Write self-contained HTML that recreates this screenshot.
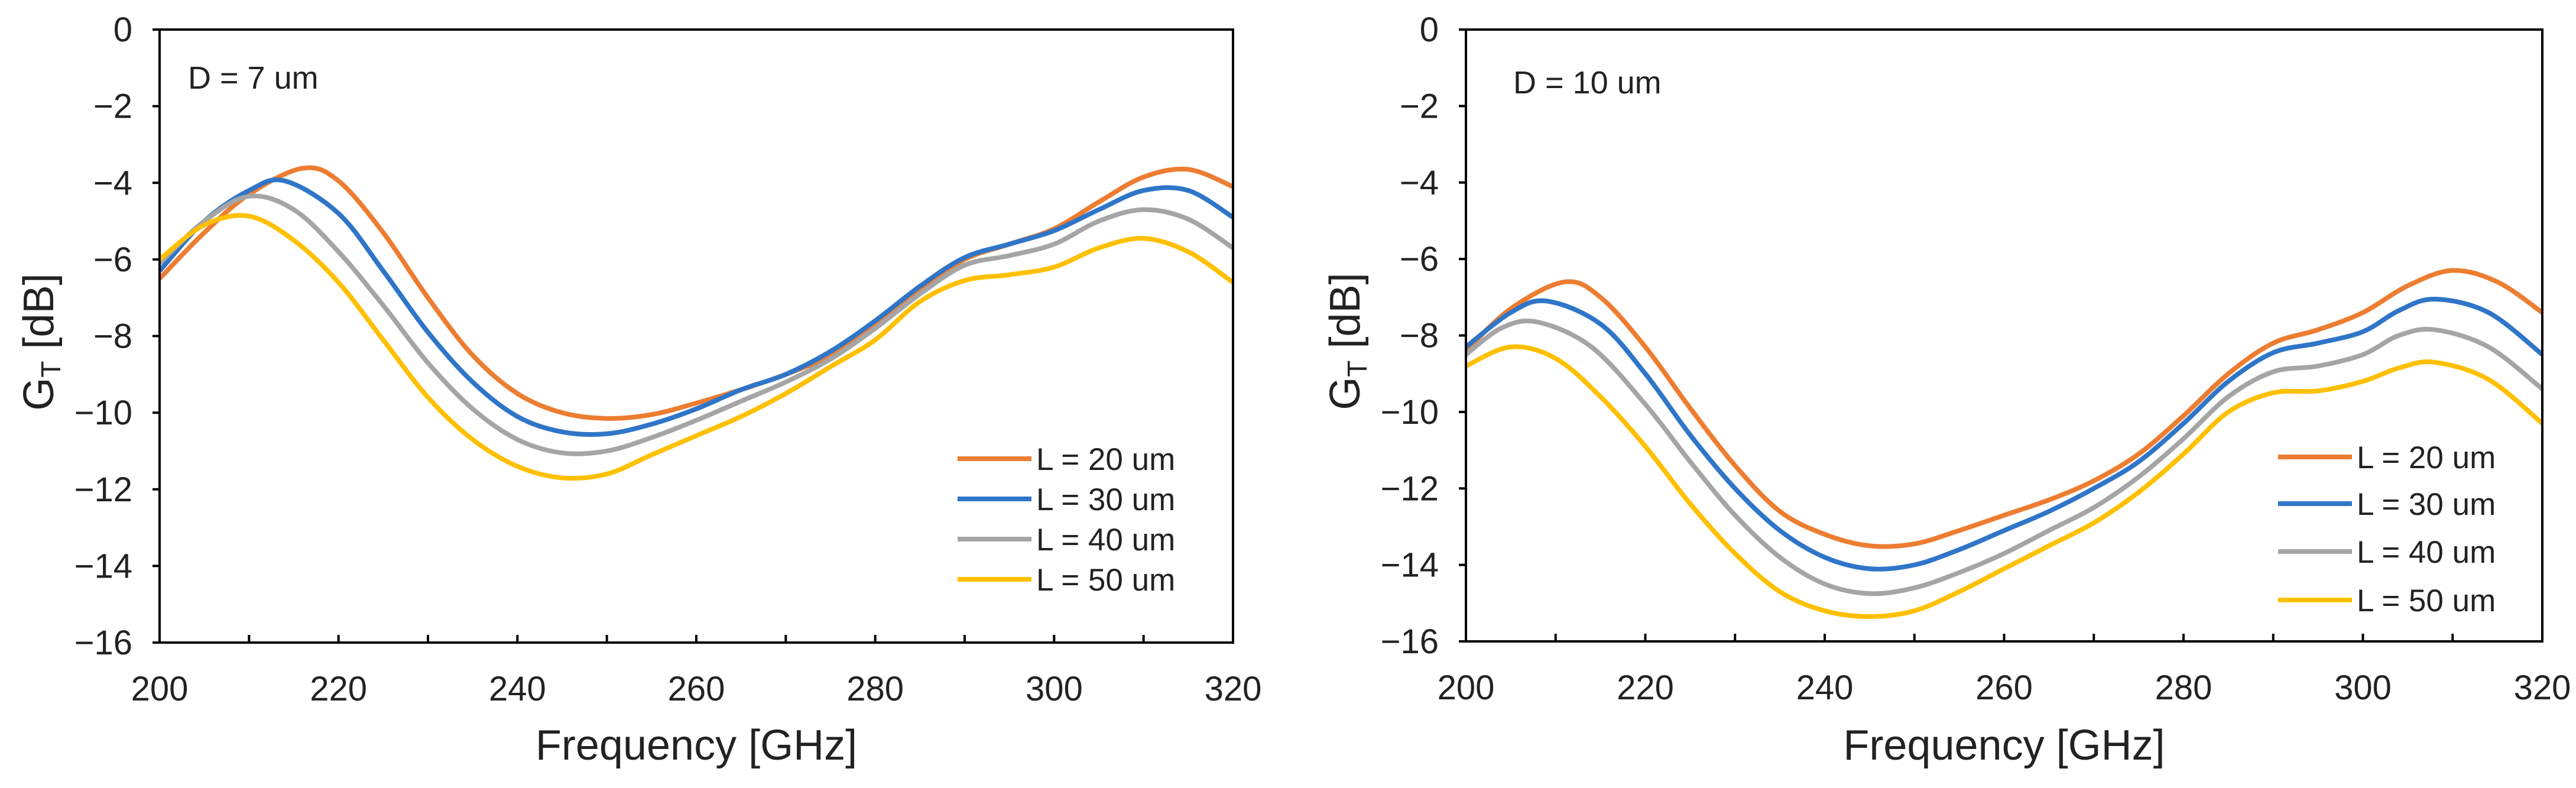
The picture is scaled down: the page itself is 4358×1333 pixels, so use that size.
<!DOCTYPE html>
<html><head><meta charset="utf-8"><style>
html,body{margin:0;padding:0;background:#fff}
svg{display:block;font-family:"Liberation Sans",Arial,sans-serif}
</style></head><body>
<svg id="fig" width="4358" height="1333" viewBox="0 0 4358 1333"></svg>
<script>
const xTicks=[200,220,240,260,280,300,320];
const yTicks=[0,-2,-4,-6,-8,-10,-12,-14,-16];
const seriesNames=["L = 20 um","L = 30 um","L = 40 um","L = 50 um"];
const seriesColors=["#ed7d31","#2f75c8","#a5a5a5","#ffc000"];
const aOrangeX=[200,205,210,216,220,225,230,235,240,245,250,255,260,265,270,275,280,285,290,295,300,305,310,315,320];
const aOrangeY=[-6.5,-5.3,-4.3,-3.62,-3.95,-5.3,-7.0,-8.5,-9.5,-10.0,-10.15,-10.05,-9.75,-9.4,-9.0,-8.5,-7.7,-6.8,-6.0,-5.6,-5.2,-4.5,-3.85,-3.65,-4.1];
const aBlueX=[200,205,210,214,220,225,230,235,240,245,250,255,260,265,270,275,280,285,290,295,300,305,310,315,320];
const aBlueY=[-6.3,-5.0,-4.2,-3.95,-4.8,-6.3,-7.9,-9.2,-10.1,-10.5,-10.55,-10.3,-9.9,-9.4,-9.0,-8.4,-7.6,-6.7,-5.95,-5.6,-5.25,-4.7,-4.2,-4.2,-4.9];
const aGrayX=[200,205,210,215,220,225,230,235,240,245,250,255,260,265,270,275,280,285,290,295,300,305,310,315,320];
const aGrayY=[-6.1,-5.0,-4.35,-4.7,-5.8,-7.2,-8.7,-9.9,-10.7,-11.05,-11.0,-10.65,-10.2,-9.7,-9.2,-8.6,-7.8,-6.9,-6.15,-5.9,-5.6,-5.0,-4.7,-4.95,-5.7];
const aYellowX=[200,205,210,215,220,225,230,235,240,245,250,255,260,265,270,275,280,285,290,295,300,305,310,315,320];
const aYellowY=[-6.0,-5.1,-4.87,-5.5,-6.6,-8.1,-9.6,-10.7,-11.4,-11.7,-11.6,-11.1,-10.6,-10.1,-9.5,-8.8,-8.1,-7.1,-6.55,-6.4,-6.2,-5.7,-5.45,-5.8,-6.6];
const bOrangeX=[200,205,211,215,220,225,230,235,240,245,250,255,260,265,270,275,280,285,290,295,300,305,310,315,320];
const bOrangeY=[-8.4,-7.3,-6.6,-7.0,-8.3,-9.9,-11.4,-12.6,-13.2,-13.5,-13.45,-13.1,-12.7,-12.3,-11.8,-11.1,-10.1,-9.0,-8.2,-7.85,-7.4,-6.7,-6.3,-6.6,-7.4];
const bBlueX=[200,205,209,215,220,225,230,235,240,245,250,255,260,265,270,275,280,285,290,295,300,304,308,314,320];
const bBlueY=[-8.3,-7.4,-7.1,-7.7,-9.0,-10.6,-12.0,-13.1,-13.8,-14.1,-14.0,-13.6,-13.1,-12.6,-12.0,-11.3,-10.3,-9.2,-8.45,-8.2,-7.9,-7.35,-7.05,-7.4,-8.5];
const bGrayX=[200,204,208,214,220,225,230,235,240,245,250,255,260,265,270,275,280,285,290,295,300,304,308,314,320];
const bGrayY=[-8.5,-7.8,-7.65,-8.3,-9.8,-11.3,-12.7,-13.8,-14.5,-14.75,-14.6,-14.2,-13.7,-13.1,-12.5,-11.7,-10.7,-9.6,-8.95,-8.8,-8.5,-8.0,-7.85,-8.3,-9.4];
const bYellowX=[200,205,210,215,220,225,230,235,240,245,250,255,260,265,270,275,280,285,290,295,300,304,308,314,320];
const bYellowY=[-8.8,-8.3,-8.6,-9.6,-10.9,-12.4,-13.7,-14.7,-15.2,-15.35,-15.2,-14.7,-14.1,-13.5,-12.9,-12.1,-11.1,-10.0,-9.5,-9.45,-9.2,-8.85,-8.7,-9.15,-10.3];

const NS="http://www.w3.org/2000/svg";
const svg=document.getElementById('fig');
function mk(tag,attrs,parent){const e=document.createElementNS(NS,tag);for(const k in attrs)e.setAttribute(k,attrs[k]);(parent||svg).appendChild(e);return e;}
function smooth(pts){let d=`M${pts[0][0]},${pts[0][1]}`;for(let i=0;i<pts.length-1;i++){const p0=pts[i-1]||pts[i],p1=pts[i],p2=pts[i+1],p3=pts[i+2]||p2;const c1=[p1[0]+(p2[0]-p0[0])/6,p1[1]+(p2[1]-p0[1])/6],c2=[p2[0]-(p3[0]-p1[0])/6,p2[1]-(p3[1]-p1[1])/6];d+=`C${c1[0]},${c1[1]} ${c2[0]},${c2[1]} ${p2[0]},${p2[1]}`;}return d;}

function panel(cfg){
  const g=mk('g',{});
  
  
  const X=v=>cfg.x0+(v-200)/120*(cfg.x1-cfg.x0);
  const Y=v=>cfg.y0+(0-v)/16*(cfg.y1-cfg.y0);
  cfg.series.forEach((s,i)=>{
    const pts=s[0].map((x,j)=>[X(x),Y(s[1][j])]);
    const p=mk('path',{d:smooth(pts),fill:'none',stroke:seriesColors[i],'stroke-width':8,'stroke-linejoin':'round'},g);
    
    
  });
  const frame=mk('rect',{x:cfg.x0,y:cfg.y0,width:cfg.x1-cfg.x0,height:cfg.y1-cfg.y0,fill:'none',stroke:'#000','stroke-width':4},g);
  
  
  for(let v=200;v<=320;v+=10){mk('line',{x1:X(v),x2:X(v),y1:cfg.y1,y2:cfg.y1-13,stroke:'#000','stroke-width':4},g);}
  xTicks.forEach(v=>{const t=mk('text',{x:X(v),y:cfg.y1+98,'font-size':58,'text-anchor':'middle',fill:'#222'},g);t.textContent=v;
    
    });
  yTicks.forEach(v=>{mk('line',{x1:cfg.x0-12,x2:cfg.x0,y1:Y(v),y2:Y(v),stroke:'#000','stroke-width':4},g);
    const t=mk('text',{x:cfg.x0-46,y:Y(v)+20,'font-size':58,'text-anchor':'end',fill:'#222'},g);t.textContent=(v<0?'\u2212'+(-v):v);
    
    });
  const xt=mk('text',{x:(cfg.x0+cfg.x1)/2,y:1285,'font-size':72,'text-anchor':'middle',fill:'#222'},g);xt.textContent='Frequency [GHz]';
  
  
  const yt=mk('text',{x:0,y:0,'font-size':72,'text-anchor':'middle',fill:'#222',transform:`translate(${cfg.x0-180},${(cfg.y0+cfg.y1)/2+10}) rotate(-90)`},g);
  yt.innerHTML='G<tspan font-size="46" dy="12">T</tspan><tspan dy="-12">  [dB]</tspan>';
  
  
  const an=mk('text',{x:cfg.annX,y:cfg.annY,'font-size':54,fill:'#222'},g);an.textContent=cfg.ann;
  
  
  seriesNames.forEach((n,i)=>{
    const ly=cfg.legY[i];
    const l=mk('line',{x1:cfg.legX,x2:cfg.legX+125,y1:ly,y2:ly,stroke:seriesColors[i],'stroke-width':8},g);
    
    
    const t=mk('text',{x:cfg.legX+133,y:ly+19,'font-size':53,fill:'#222'},g);t.textContent=n;
    
    
  });
}
panel({name:'chart-d7',x0:270,x1:2086,y0:50,y1:1087,ann:'D = 7 um',annX:318,annY:150,legX:1620,legY:[776,844,912,980],
  series:[[aOrangeX,aOrangeY],[aBlueX,aBlueY],[aGrayX,aGrayY],[aYellowX,aYellowY]]});
panel({name:'chart-d10',x0:2480,x1:4301,y0:50,y1:1085,ann:'D = 10 um',annX:2560,annY:158,legX:3854,legY:[773,852,933,1015],
  series:[[bOrangeX,bOrangeY],[bBlueX,bBlueY],[bGrayX,bGrayY],[bYellowX,bYellowY]]});
</script>
</body></html>
